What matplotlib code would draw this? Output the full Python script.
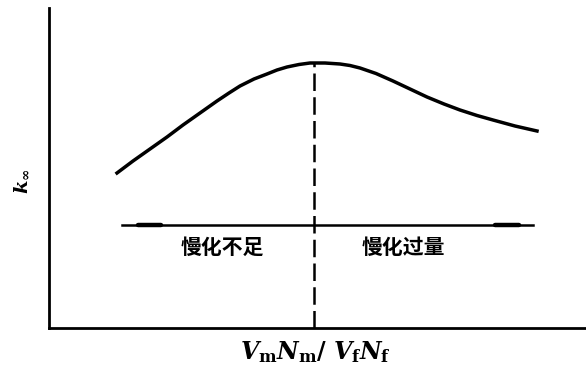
import numpy as np
import matplotlib.pyplot as plt

plt.rcParams['mathtext.fontset'] = 'custom'
plt.rcParams['mathtext.it'] = 'DejaVu Serif:italic:bold'
plt.rcParams['mathtext.rm'] = 'DejaVu Serif:bold'

# curve (moderation ratio vs k_inf, arbitrary units)
ratio = [68, 84, 101, 118, 134, 151, 168, 180, 191, 205, 218, 228, 238, 250, 261,
         276, 291, 301, 311, 327, 344, 361, 378, 395, 411, 428, 444, 466, 488]
k_inf = [155, 167, 179, 191, 203, 215, 227, 235, 242, 249, 254, 258, 261, 263.5, 265,
         265, 264, 262.5, 260, 254.5, 247, 239, 231, 224, 218, 212.5, 208, 202, 197]
peak_x = 265
arrow_y = 103
arrow_x = [73, 484]
head_left = [89, 112]
head_right = [446, 470]
labels = ['慢化不足', '慢化过量']
label_x = [173, 354]
label_y = 81

fig = plt.figure(figsize=(5.86, 3.67), dpi=100)
ax = fig.add_axes([49/586, 39/367, 537/586, 320/367])
ax.set_xlim(0, 537)
ax.set_ylim(0, 320)

ax.plot(ratio, k_inf, color='black', lw=2.5, solid_joinstyle='round')
ax.plot([peak_x, peak_x], [0, max(k_inf)], color='black', lw=1.8, ls=(0, (7, 2.5)))

# double arrow line with crude heads
ax.plot(arrow_x, [arrow_y, arrow_y], color='black', lw=1.8)
ax.plot(head_left, [arrow_y, arrow_y], color='black', lw=3.2, solid_capstyle='round')
ax.plot(head_right, [arrow_y, arrow_y], color='black', lw=3.2, solid_capstyle='round')

for s, x in zip(labels, label_x):
    ax.text(x, label_y, s, ha='center', va='center', fontsize=15,
            fontweight='bold', family=['Noto Sans CJK SC', 'DejaVu Sans'])

for side in ['top', 'right']:
    ax.spines[side].set_visible(False)
for side in ['left', 'bottom']:
    ax.spines[side].set_linewidth(2)
ax.set_xticks([])
ax.set_yticks([])

fig.text(21/586, 1 - 181/367, r'$k_\infty$', fontsize=14, rotation=90,
         ha='center', va='center')
fig.text(315/586, 1 - 352/367, r'$V_{\rm m}N_{\rm m}/\ V_{\rm f}N_{\rm f}$',
         fontsize=17, ha='center', va='center')

fig.savefig('out.png', dpi=100)
